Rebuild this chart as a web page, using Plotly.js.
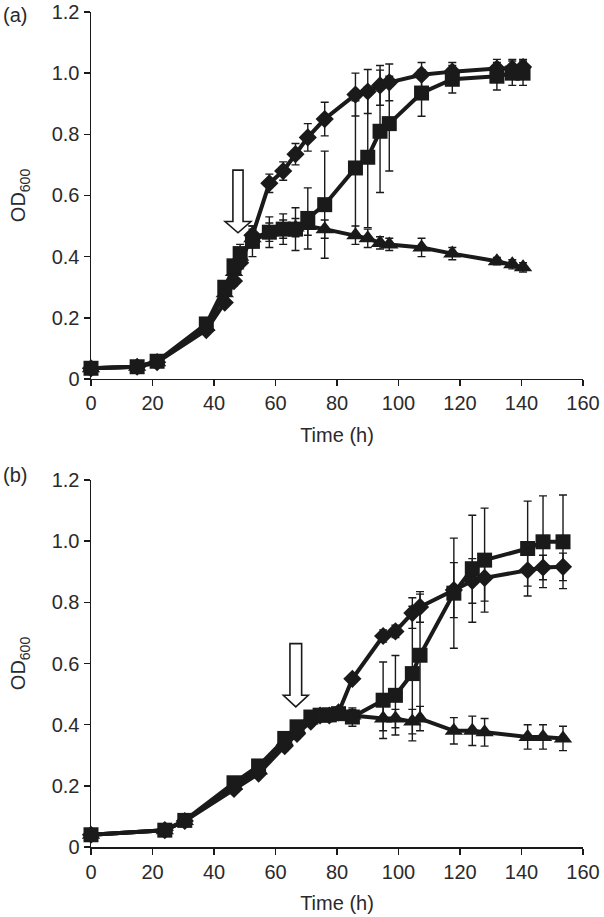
<!DOCTYPE html>
<html>
<head>
<meta charset="utf-8">
<script src="https://cdn.plot.ly/plotly-3.0.1.min.js"></script>
<style>
  html, body { margin: 0; padding: 0; background: #fff; }
  #chart { width: 604px; height: 917px; }
</style>
</head>
<body>
<div id="chart"></div>
<script>
// ---------- Panel (a) data ----------
const timeA = [0, 15, 21.5, 37.5, 43.5, 46.5, 48.5, 52.5, 58, 62.5, 66.5, 70.5, 76, 86, 90, 94, 97, 107.5, 117.5, 132, 137, 140.5];
const diamondA = [0.035, 0.04, 0.055, 0.16, 0.25, 0.32, 0.38, 0.47, 0.64, 0.68, 0.735, 0.79, 0.85, 0.93, 0.94, 0.96, 0.97, 0.995, 1.005, 1.015, 1.015, 1.02];
const diamondErrA = [0.005, 0.005, 0.005, 0.01, 0.01, 0.015, 0.02, 0.03, 0.03, 0.03, 0.035, 0.045, 0.055, 0.07, 0.072, 0.065, 0.06, 0.04, 0.03, 0.03, 0.03, 0.025];
const squareA = [0.035, 0.04, 0.058, 0.18, 0.30, 0.37, 0.41, 0.45, 0.48, 0.49, 0.49, 0.525, 0.57, 0.69, 0.725, 0.81, 0.835, 0.935, 0.98, 0.99, 1.0, 1.0];
const squareErrA = [0.005, 0.005, 0.005, 0.01, 0.02, 0.02, 0.03, 0.05, 0.05, 0.05, 0.07, 0.1, 0.175, 0.22, 0.23, 0.2, 0.155, 0.076, 0.045, 0.045, 0.04, 0.04];
const triangleA = [0.035, 0.04, 0.055, 0.17, 0.28, 0.35, 0.40, 0.46, 0.48, 0.49, 0.495, 0.50, 0.49, 0.47, 0.46, 0.445, 0.44, 0.43, 0.41, 0.385, 0.375, 0.365];
const triangleErrA = [0.005, 0.005, 0.005, 0.01, 0.02, 0.02, 0.02, 0.03, 0.03, 0.03, 0.03, 0.03, 0.03, 0.03, 0.03, 0.02, 0.02, 0.03, 0.02, 0.012, 0.015, 0.015];

// ---------- Panel (b) data ----------
const timeB = [0, 24, 30.5, 46.5, 54.5, 63, 67, 71.5, 74.5, 77.5, 80.5, 85, 95, 99, 104.5, 107, 118, 124, 128, 142, 147, 153.5];
const diamondB = [0.04, 0.055, 0.085, 0.19, 0.24, 0.33, 0.37, 0.41, 0.43, 0.43, 0.44, 0.55, 0.69, 0.705, 0.765, 0.785, 0.84, 0.87, 0.88, 0.905, 0.914, 0.916];
const diamondErrB = [0.005, 0.005, 0.005, 0.01, 0.01, 0.015, 0.015, 0.015, 0.015, 0.015, 0.015, 0.01, 0.02, 0.02, 0.05, 0.05, 0.09, 0.073, 0.076, 0.052, 0.04, 0.045];
const squareB = [0.04, 0.055, 0.087, 0.21, 0.265, 0.355, 0.393, 0.425, 0.431, 0.432, 0.436, 0.425, 0.48, 0.496, 0.567, 0.627, 0.83, 0.91, 0.938, 0.976, 0.998, 0.998];
const squareErrB = [0.005, 0.005, 0.005, 0.01, 0.015, 0.02, 0.02, 0.02, 0.02, 0.02, 0.02, 0.03, 0.125, 0.13, 0.22, 0.2, 0.18, 0.175, 0.17, 0.155, 0.15, 0.153];
const triangleB = [0.04, 0.055, 0.085, 0.2, 0.25, 0.345, 0.385, 0.42, 0.43, 0.43, 0.435, 0.43, 0.42, 0.42, 0.41, 0.42, 0.38, 0.38, 0.375, 0.36, 0.36, 0.355];
const triangleErrB = [0.005, 0.005, 0.005, 0.01, 0.01, 0.015, 0.015, 0.02, 0.02, 0.02, 0.02, 0.02, 0.04, 0.03, 0.04, 0.04, 0.043, 0.048, 0.045, 0.04, 0.04, 0.04];

// Tick labels
const xTickVals = [0, 20, 40, 60, 80, 100, 120, 140, 160];
const yTickVals = [0, 0.2, 0.4, 0.6, 0.8, 1.0, 1.2];
const yTickText = ["0", "0.2", "0.4", "0.6", "0.8", "1.0", "1.2"];

// Arrow (addition-time markers): [centre time, top OD, head-base OD, tip OD, shaft half-width, head half-width]
const arrowA = [47.8, 0.683, 0.515, 0.478, 1.65, 4.2];
const arrowB = [66.6, 0.665, 0.496, 0.458, 1.9, 4.05];

const ink = '#1a1a1a';
const textInk = '#2a2a2a';
const FONT = 'Liberation Sans, Arial, Helvetica, sans-serif';
const FS = 20;

function series(x, y, err, symbol, size, xa, ya) {
  return {
    type: 'scatter', mode: 'lines+markers',
    x: x, y: y, xaxis: xa, yaxis: ya,
    line: { color: ink, width: 4 },
    marker: { symbol: symbol, size: size, color: ink, line: { width: 0 } },
    error_y: { type: 'data', array: err, visible: true, color: ink, thickness: 1.4, width: 4 },
    cliponaxis: false,
    showlegend: false,
    hoverinfo: 'x+y'
  };
}

const data = [
  series(timeA, triangleA, triangleErrA, 'triangle-up', 16, 'x', 'y'),
  series(timeA, diamondA, diamondErrA, 'diamond', 14, 'x', 'y'),
  series(timeA, squareA, squareErrA, 'square', 15, 'x', 'y'),
  series(timeB, triangleB, triangleErrB, 'triangle-up', 16, 'x2', 'y2'),
  series(timeB, diamondB, diamondErrB, 'diamond', 14, 'x2', 'y2'),
  series(timeB, squareB, squareErrB, 'square', 15, 'x2', 'y2')
];

function arrowPath(a) {
  const [c, top, base, tip, sw, hw] = a;
  return `M ${c - sw} ${top} L ${c + sw} ${top} L ${c + sw} ${base} L ${c + hw} ${base} L ${c} ${tip} L ${c - hw} ${base} L ${c - sw} ${base} Z`;
}

function xaxisDef(anchor) {
  return {
    anchor: anchor, range: [0, 160], tickvals: xTickVals,
    showgrid: false, zeroline: false, showline: true,
    linecolor: ink, linewidth: 1.5,
    ticks: 'outside', ticklen: 6, tickwidth: 1.5, tickcolor: ink,
    tickfont: { family: FONT, size: FS, color: textInk },
    title: { text: 'Time (h)', font: { family: FONT, size: FS, color: textInk }, standoff: 14 }
  };
}
function yaxisDef(anchor, domain) {
  return {
    anchor: anchor, domain: domain, range: [0, 1.2],
    tickvals: yTickVals, ticktext: yTickText,
    showgrid: false, zeroline: false, showline: true,
    linecolor: ink, linewidth: 1.5,
    ticks: 'outside', ticklen: 6, tickwidth: 1.5, tickcolor: ink,
    tickfont: { family: FONT, size: FS, color: textInk },
    title: { text: 'OD<sub>600</sub>', font: { family: FONT, size: FS, color: textInk }, standoff: 20 }
  };
}

const layout = {
  width: 604, height: 917,
  margin: { l: 91, r: 21, t: 12, b: 70 },
  paper_bgcolor: '#fff', plot_bgcolor: '#fff',
  font: { family: FONT, color: textInk },
  xaxis: xaxisDef('y'),
  yaxis: yaxisDef('x', [0.5605, 1]),
  xaxis2: xaxisDef('y2'),
  yaxis2: yaxisDef('x2', [0, 0.4395]),
  shapes: [
    { type: 'path', xref: 'x', yref: 'y', path: arrowPath(arrowA), fillcolor: '#fff', line: { color: ink, width: 1.6 } },
    { type: 'path', xref: 'x2', yref: 'y2', path: arrowPath(arrowB), fillcolor: '#fff', line: { color: ink, width: 1.6 } }
  ],
  annotations: [
    { text: '(a)', xref: 'paper', yref: 'paper', x: -0.183, y: 0.9964, xanchor: 'left', yanchor: 'middle', showarrow: false, font: { family: FONT, size: FS, color: textInk } },
    { text: '(b)', xref: 'paper', yref: 'paper', x: -0.183, y: 0.4455, xanchor: 'left', yanchor: 'middle', showarrow: false, font: { family: FONT, size: FS, color: textInk } }
  ]
};

Plotly.newPlot('chart', data, layout, { staticPlot: true, displayModeBar: false });
</script>
</body>
</html>
